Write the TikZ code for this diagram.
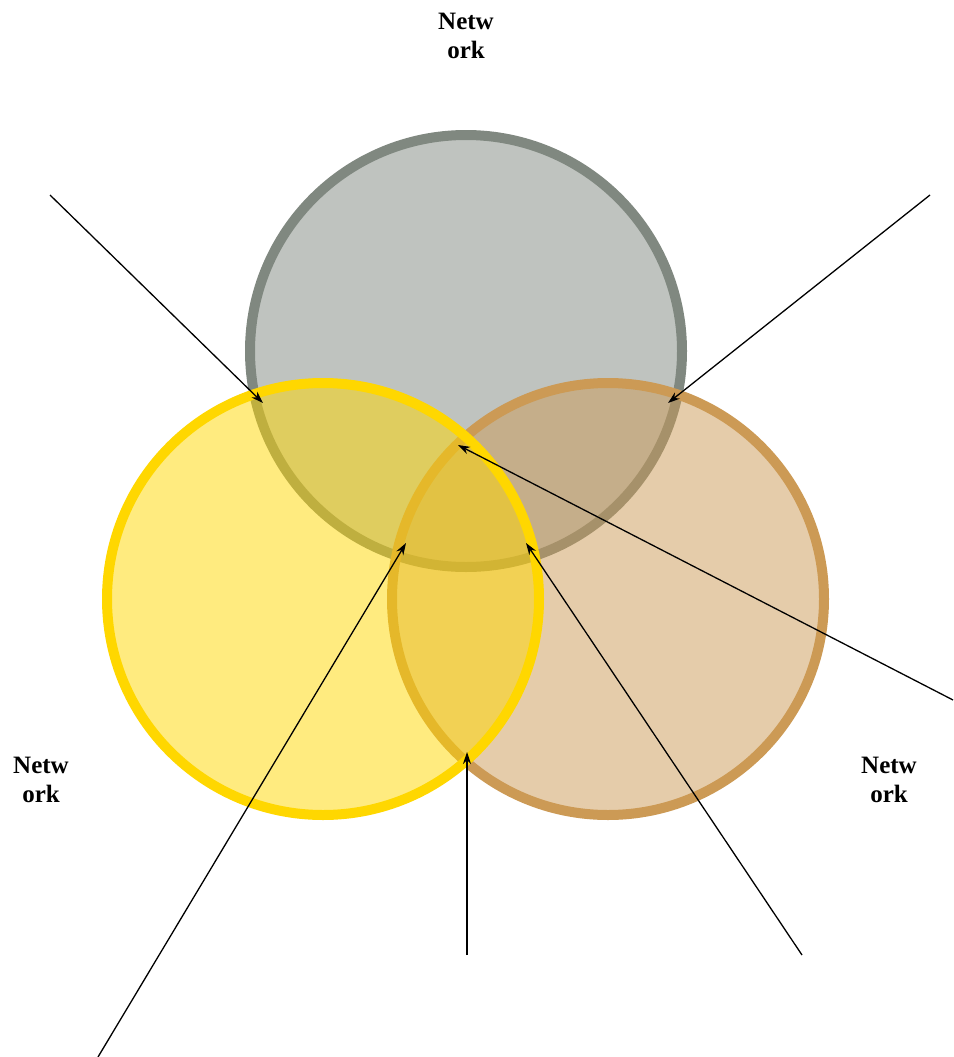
\documentclass[tikz,border=0pt]{standalone}
\usepackage{fontspec}
\setmainfont{Liberation Serif}
\usepackage{tikz}
\usetikzlibrary{arrows.meta}

\definecolor{netgray}{HTML}{808880}
\definecolor{netgold}{HTML}{FFD700}
\definecolor{nettan}{HTML}{CC9A55}

\tikzset{
  ring/.style={circle, line width=10pt, minimum size=432pt, fill opacity=0.5, draw opacity=1},
  lbl/.style={font=\bfseries\fontsize{25}{29}\selectfont, align=center},
  pointer/.style={line width=1.3pt, -{Stealth[length=12pt,width=8pt]}}
}

\begin{document}
\begin{tikzpicture}[x=1pt,y=-1pt]
\useasboundingbox (0,0) rectangle (953,1057);

\node[ring, draw=netgray, fill=netgray] (top) at (466,351) {};
\node[ring, draw=nettan, fill=nettan] (right) at (608,599) {};
\node[ring, draw=netgold, fill=netgold] (left) at (323,599) {};

\node[lbl] (ntop) at (466,36) {Netw\\ork};
\node[lbl] (nleft) at (41,780) {Netw\\ork};
\node[lbl] (nright) at (889,780) {Netw\\ork};

% arrow tails and heads
\coordinate (a1) at (50,195);   \coordinate (b1) at (263,403);
\coordinate (a2) at (930,195);  \coordinate (b2) at (668,403);
\coordinate (a3) at (953,700);  \coordinate (b3) at (458,445);
\coordinate (a4) at (98,1057);  \coordinate (b4) at (406,543);
\coordinate (a5) at (467,955);  \coordinate (b5) at (467,752);
\coordinate (a6) at (802,955);  \coordinate (b6) at (526,543);

\foreach \i in {1,...,6}
  \draw[pointer] (a\i) -- (b\i);
\end{tikzpicture}
\end{document}
